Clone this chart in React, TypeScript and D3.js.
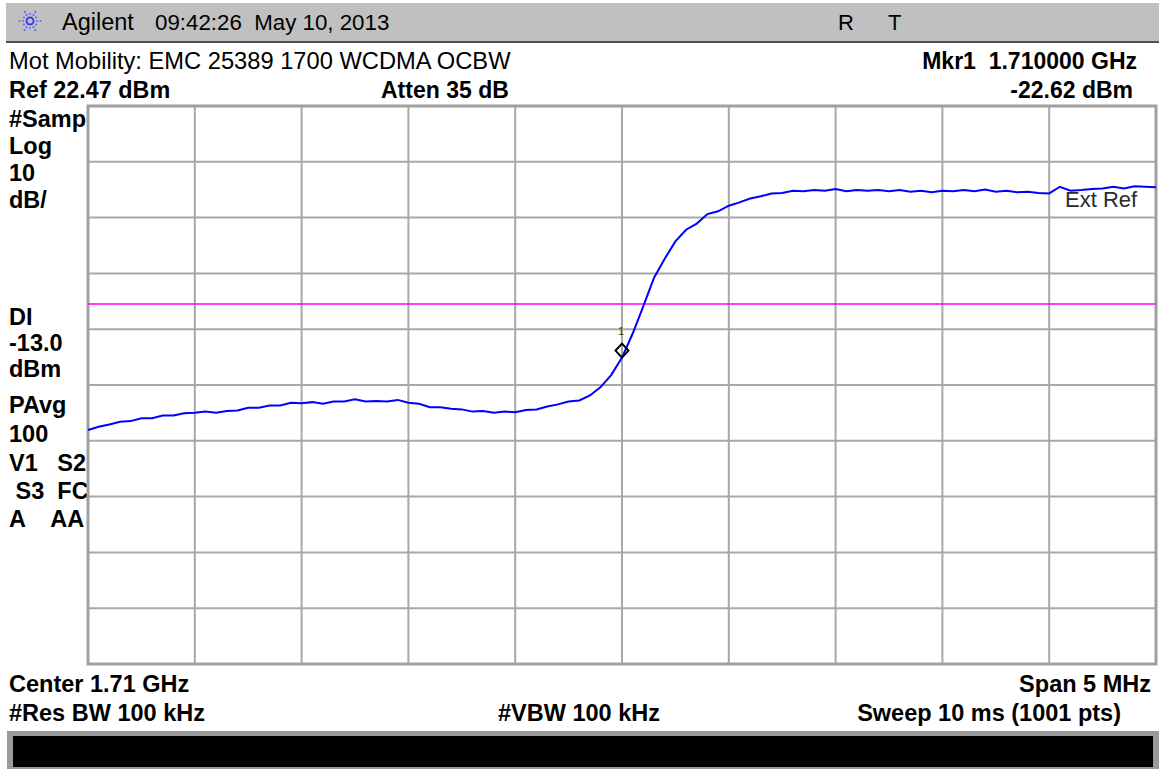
import React, { useEffect, useRef } from 'react';
import * as d3 from 'd3';

// analyzer settings
const refLevel = 22.47;      // dBm, top graticule line
const dbPerDiv = 10;
const centerGHz = 1.71;
const spanGHz = 0.005;
const displayLine = -13.0;
const markerFreq = 1.71;
const markerLevel = -22.62;

const gridCols = d3.range(11);
const gridRows = d3.range(11);

// trace levels (dBm), one every 0.05 MHz from 1.7075 to 1.7125 GHz
const traceLevels = [
  -35.6, -35.0, -34.6, -34.1, -34.0, -33.5, -33.5, -33.0, -33.0, -32.6,
  -32.5, -32.3, -32.5, -32.2, -32.1, -31.6, -31.6, -31.2, -31.2, -30.7,
  -30.8, -30.6, -30.9, -30.5, -30.5, -30.1, -30.5, -30.4, -30.5, -30.2,
  -30.7, -30.9, -31.5, -31.5, -31.8, -31.9, -32.3, -32.2, -32.5, -32.3,
  -32.4, -32.0, -31.9, -31.4, -31.0, -30.5, -30.3, -29.4, -27.9, -25.7,
  -22.62, -18.3, -13.4, -8.3, -4.9, -1.8, 0.3, 1.4, 3.1, 3.6,
  4.6, 5.2, 5.9, 6.3, 6.8, 6.9, 7.3, 7.2, 7.4, 7.3,
  7.6, 7.2, 7.4, 7.3, 7.4, 7.2, 7.4, 7.1, 7.3, 7.0,
  7.3, 7.2, 7.4, 7.2, 7.5, 7.1, 7.3, 7.0, 7.1, 6.9,
  6.8, 8.0, 7.3, 7.4, 7.6, 7.7, 8.0, 7.7, 8.1, 8.0, 7.9
];

const leftLabels = [
  { t: '#Samp', y: 127 }, { t: 'Log', y: 154 }, { t: '10', y: 181 }, { t: 'dB/', y: 208 },
  { t: 'DI', y: 325 }, { t: '-13.0', y: 351 }, { t: 'dBm', y: 377 },
  { t: 'PAvg', y: 413 }, { t: '100', y: 442 }, { t: 'V1   S2', y: 471 },
  { t: ' S3  FC', y: 499 }, { t: 'A    AA', y: 527 }
];

const width = 1159;
const height = 770;
const plot = { left: 88, right: 1156, top: 106, bottom: 664 };
const font = 'Liberation Sans, Arial, sans-serif';

const App = () => {
  const ref = useRef<SVGSVGElement>(null);

  useEffect(() => {
    const svg = d3.select(ref.current);
    svg.selectAll('*').remove();

    const startF = centerGHz - spanGHz / 2;
    const stopF = centerGHz + spanGHz / 2;
    const x = d3.scaleLinear().domain([startF, stopF]).range([plot.left, plot.right]);
    const y = d3.scaleLinear()
      .domain([refLevel - dbPerDiv * 10, refLevel])
      .range([plot.bottom, plot.top]);
    const step = spanGHz / (traceLevels.length - 1);

    svg.append('rect').attr('width', width).attr('height', height).attr('fill', '#fff');

    // header bar
    svg.append('rect').attr('x', 6).attr('y', 3).attr('width', width - 6).attr('height', 38).attr('fill', '#c0c0c0');
    svg.append('line').attr('x1', 6).attr('x2', width).attr('y1', 42).attr('y2', 42)
      .attr('stroke', '#505050').attr('stroke-width', 2);

    // starburst logo
    const logo = svg.append('g').attr('transform', 'translate(30,21)');
    d3.range(12).forEach(k => {
      const a = (k / 12) * Math.PI * 2;
      [3.5, 7, 10.5].forEach((r, j) => {
        if (j === 2 && k % 2 === 1) return;
        logo.append('circle')
          .attr('cx', Math.cos(a) * r).attr('cy', Math.sin(a) * r)
          .attr('r', 1.1).attr('fill', j === 0 ? '#3030ff' : '#6a6aff');
      });
    });

    const txt = (t: string, xx: number, yy: number, opts: any = {}) =>
      svg.append('text')
        .attr('x', xx).attr('y', yy)
        .attr('font-family', font)
        .attr('font-size', opts.size || 22)
        .attr('font-weight', opts.bold ? 'bold' : 'normal')
        .attr('text-anchor', opts.anchor || 'start')
        .attr('fill', opts.fill || '#000')
        .style('white-space', 'pre')
        .text(t);

    txt('Agilent', 62, 30, { size: 23.5 });
    txt('09:42:26  May 10, 2013', 155, 30, { size: 22.3 });
    txt('R', 838, 30);
    txt('T', 888, 30);

    txt('Mot Mobility: EMC 25389 1700 WCDMA OCBW', 9, 69, { size: 23.7 });
    txt('Mkr1  1.710000 GHz', 1137, 69, { bold: true, anchor: 'end', size: 23 });
    txt('Ref 22.47 dBm', 9, 98, { bold: true, size: 23.4 });
    txt('Atten 35 dB', 381, 98, { bold: true, size: 23 });
    txt('-22.62 dBm', 1133, 98, { bold: true, anchor: 'end', size: 23 });

    leftLabels.forEach(d => txt(d.t, 9, d.y, { bold: true, size: 23.5 }));

    // graticule
    const grid = svg.append('g').attr('stroke', '#a8a8a8').attr('stroke-width', 2);
    grid.selectAll('line.v').data(gridCols).enter().append('line')
      .attr('x1', i => x(startF + i * spanGHz / 10)).attr('x2', i => x(startF + i * spanGHz / 10))
      .attr('y1', plot.top).attr('y2', plot.bottom);
    grid.selectAll('line.h').data(gridRows).enter().append('line')
      .attr('y1', i => y(refLevel - i * dbPerDiv)).attr('y2', i => y(refLevel - i * dbPerDiv))
      .attr('x1', plot.left).attr('x2', plot.right);
    svg.append('rect')
      .attr('x', plot.left).attr('y', plot.top)
      .attr('width', plot.right - plot.left).attr('height', plot.bottom - plot.top)
      .attr('fill', 'none').attr('stroke', '#a0a0a0').attr('stroke-width', 3);

    // display line
    svg.append('line')
      .attr('x1', plot.left).attr('x2', plot.right)
      .attr('y1', y(displayLine)).attr('y2', y(displayLine))
      .attr('stroke', '#ff00ff').attr('stroke-width', 1.5);

    // trace
    const line = d3.line<number>()
      .x((d, i) => x(startF + i * step))
      .y(d => y(d));
    svg.append('path')
      .datum(traceLevels)
      .attr('d', line)
      .attr('fill', 'none')
      .attr('stroke', '#0000ff')
      .attr('stroke-width', 2);

    // Ext Ref annunciator
    txt('Ext Ref', 1065, 207, { size: 22, fill: '#2a2a2a' });

    // marker 1
    const mx = x(markerFreq);
    const my = y(markerLevel);
    svg.append('path')
      .attr('d', `M${mx},${my} l-6.5,-7 l6.5,-7 l6.5,7 z`)
      .attr('fill', 'none').attr('stroke', '#000').attr('stroke-width', 2);
    txt('1', mx - 1, my - 23, { size: 11, anchor: 'middle', fill: '#333' });

    // bottom annotations
    txt('Center 1.71 GHz', 9, 692, { bold: true, size: 23.5 });
    txt('Span 5 MHz', 1151, 692, { bold: true, size: 23.5, anchor: 'end' });
    txt('#Res BW 100 kHz', 9, 721, { bold: true, size: 23.5 });
    txt('#VBW 100 kHz', 498, 721, { bold: true, size: 23.5 });
    txt('Sweep 10 ms (1001 pts)', 1121, 721, { bold: true, size: 23.5, anchor: 'end' });

    // status bar
    svg.append('rect').attr('x', 7).attr('y', 731).attr('width', width - 7).attr('height', 38).attr('fill', '#9a9a9a');
    svg.append('rect').attr('x', 13).attr('y', 736).attr('width', 1140).attr('height', 31).attr('fill', '#000');
  }, []);

  return (
    <div style={{ position: 'absolute', left: 0, top: 0 }}>
      <svg ref={ref} width={width} height={height} style={{ display: 'block' }}></svg>
    </div>
  );
};

export default App;
